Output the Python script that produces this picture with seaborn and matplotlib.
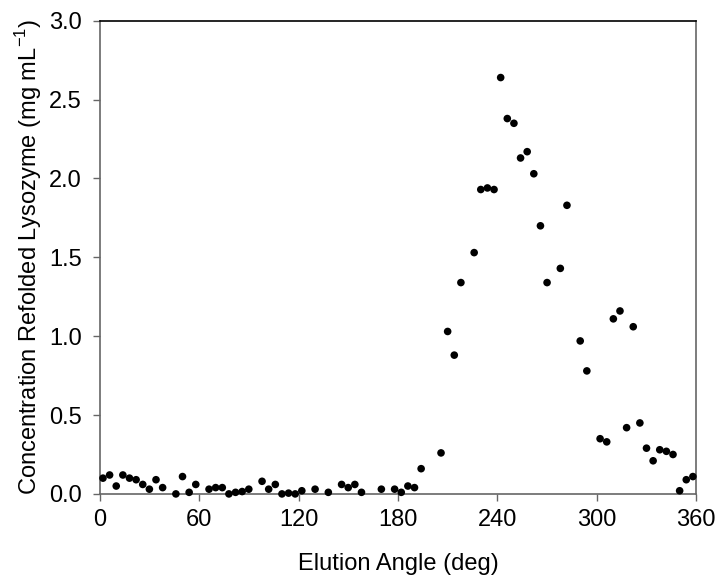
# plot.py
# Replotea la concentración de lisozima replegada frente al ángulo de elución

import numpy as np
import pandas as pd
import matplotlib
matplotlib.use("Agg")
import matplotlib.pyplot as plt
import seaborn as sns

# ángulos de elución (deg)
angulo = [2, 6, 10, 14, 18, 22, 26, 30, 34, 38, 46, 50, 54, 58, 66, 70, 74, 78,
          82, 86, 90, 98, 102, 106, 110, 114, 118, 122, 130, 138, 146, 150, 154,
          158, 170, 178, 182, 186, 190, 194, 206, 210, 214, 218, 226, 230, 234,
          238, 242, 246, 250, 254, 258, 262, 266, 270, 278, 282, 290, 294, 302,
          306, 310, 314, 318, 322, 326, 330, 334, 338, 342, 346, 350, 354, 358]

# concentración de lisozima replegada (mg/mL)
concentracion = [0.10, 0.12, 0.05, 0.12, 0.10, 0.09, 0.06, 0.03, 0.09, 0.04,
                 0.00, 0.11, 0.01, 0.06, 0.03, 0.04, 0.04, 0.00, 0.01, 0.015,
                 0.03, 0.08, 0.03, 0.06, 0.00, 0.005, 0.00, 0.02, 0.03, 0.01,
                 0.06, 0.04, 0.06, 0.01, 0.03, 0.03, 0.01, 0.05, 0.04, 0.16,
                 0.26, 1.03, 0.88, 1.34, 1.53, 1.93, 1.94, 1.93, 2.64, 2.38,
                 2.35, 2.13, 2.17, 2.03, 1.70, 1.34, 1.43, 1.83, 0.97, 0.78,
                 0.35, 0.33, 1.11, 1.16, 0.42, 1.06, 0.45, 0.29, 0.21, 0.28,
                 0.27, 0.25, 0.02, 0.09, 0.11]

x_ticks = [0, 60, 120, 180, 240, 300, 360]
y_ticks = [0.0, 0.5, 1.0, 1.5, 2.0, 2.5, 3.0]

df = pd.DataFrame({"angulo": angulo, "conc": concentracion})

sns.set_style("ticks")
plt.rcParams["font.family"] = ["Liberation Sans", "DejaVu Sans"]
plt.rcParams["mathtext.fontset"] = "custom"
plt.rcParams["mathtext.rm"] = "Liberation Sans"
plt.rcParams["text.color"] = "black"
plt.rcParams["axes.labelcolor"] = "black"
plt.rcParams["xtick.color"] = "black"
plt.rcParams["ytick.color"] = "black"

fig = plt.figure(figsize=(7.17, 5.77), dpi=100)
ax = fig.add_axes([0.139, 0.144, 0.832, 0.820])

sns.scatterplot(data=df, x="angulo", y="conc", ax=ax, color="black",
                s=30, edgecolor="none", clip_on=False, zorder=3)

ax.set_xlim(0, 360)
ax.set_ylim(0, 3.0)
ax.set_xticks(x_ticks)
ax.set_yticks(y_ticks)
ax.set_yticklabels([f"{v:.1f}" for v in y_ticks])
ax.tick_params(axis="both", direction="out", length=5, width=1,
               labelsize=17, labelcolor="black")
ax.tick_params(axis="x", pad=6)
ax.tick_params(axis="y", pad=8)
ax.tick_params(axis="both", color="#666666")

for lado in ["left", "bottom", "right"]:
    ax.spines[lado].set_color("#666666")
    ax.spines[lado].set_linewidth(1.2)
ax.spines["top"].set_color("black")
ax.spines["top"].set_linewidth(1.2)

ax.set_xlabel("Elution Angle (deg)", fontsize=17)
ax.set_ylabel(r"Concentration Refolded Lysozyme (mg mL$^{\mathregular{-1}}$)",
              fontsize=17)
ax.xaxis.set_label_coords(0.5, -0.125)
ax.yaxis.set_label_coords(-0.094, 0.5)

fig.savefig("out.png", dpi=100)
